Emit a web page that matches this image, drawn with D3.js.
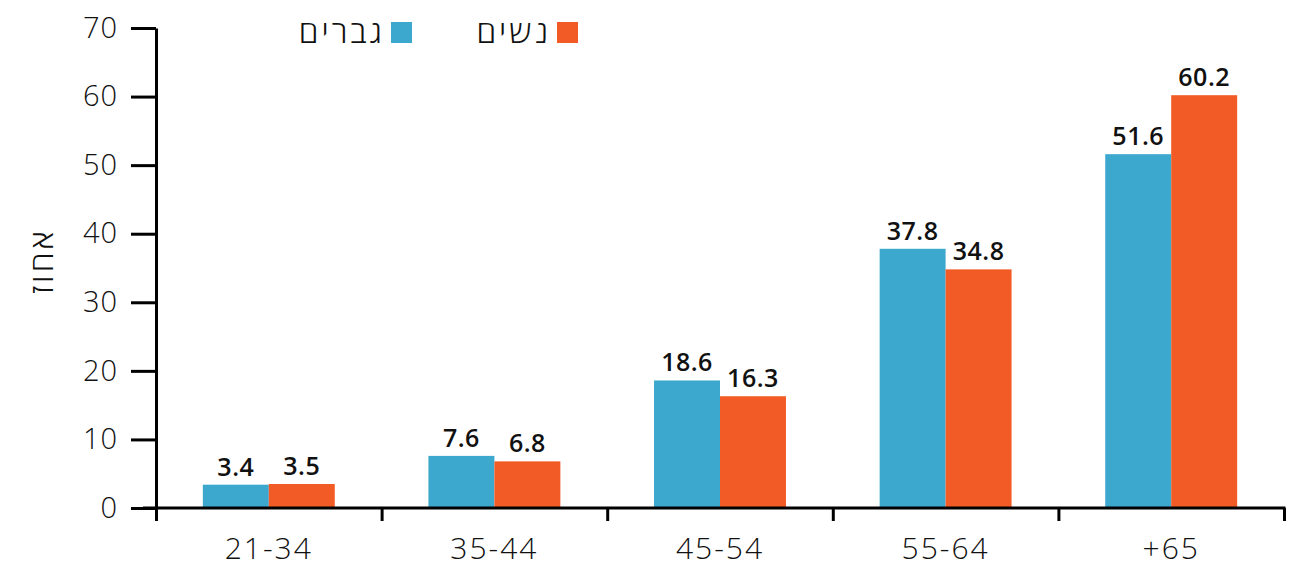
<!DOCTYPE html>
<html><head><meta charset="utf-8">
<script src="https://cdn.jsdelivr.net/npm/d3@7"></script>
<style>
body{margin:0;background:#fff;}
svg{display:block;}
text{font-family:"Open Sans","Liberation Sans",sans-serif;}
</style></head>
<body>
<svg id="chart" width="1292" height="579"></svg>
<script>
const categories = ["21-34","35-44","45-54","55-64","+65"];
const men = [3.4, 7.6, 18.6, 37.8, 51.6];
const women = [3.5, 6.8, 16.3, 34.8, 60.2];
const yTicks = [0,10,20,30,40,50,60,70];
const seriesNames = ["גברים","נשים"];
const colors = ["#3DA8CE","#F25B25"];
const yTitle = "אחוז";

(function(){
const svg = d3.select("#chart");
const mLeft = 156, mRight = 1284, mTop = 28, mBottom = 508;

const x = d3.scaleBand().domain(categories).range([mLeft,mRight]).padding(0);
const x1 = d3.scaleBand().domain([0,1]).range([0,x.bandwidth()]).paddingInner(0).paddingOuter(0.71);
const y = d3.scaleLinear().domain([0,70]).range([mBottom,mTop]);

const data = categories.map((c,i)=>({c, vals:[men[i],women[i]]}));
const g = svg.append("g");
data.forEach(d=>{
  d.vals.forEach((v,j)=>{
    g.append("rect")
      .attr("x", x(d.c)+x1(j))
      .attr("y", y(v))
      .attr("width", x1.bandwidth())
      .attr("height", y(0)-y(v))
      .attr("fill", colors[j]);
    g.append("text")
      .attr("x", x(d.c)+x1(j)+x1.bandwidth()/2)
      .attr("y", y(v)-9)
      .attr("text-anchor","middle")
      .attr("font-size",25)
      .attr("font-weight",600)
      .attr("letter-spacing",0.5)
      .attr("fill","#111")
      .text(v.toFixed(1));
  });
});

const yAxis = svg.append("g").attr("transform",`translate(${mLeft},0)`)
  .call(d3.axisLeft(y).tickValues(yTicks).tickSize(25).tickSizeOuter(0).tickPadding(13));
yAxis.select(".domain").attr("stroke","#000").attr("stroke-width",3);
yAxis.selectAll(".tick line").attr("stroke","#000").attr("stroke-width",3);
yAxis.selectAll(".tick text").attr("font-size",29).attr("font-weight",300).attr("fill","#111")
  .attr("letter-spacing",1)
  .style("font-family","'Open Sans',sans-serif");

const xb = d3.scalePoint().domain(d3.range(categories.length+1)).range([mLeft,mRight]);
const xAxisB = svg.append("g").attr("transform",`translate(0,${mBottom})`)
  .call(d3.axisBottom(xb).tickSize(13).tickSizeOuter(0).tickFormat(""));
xAxisB.select(".domain").remove();
xAxisB.selectAll(".tick line").attr("stroke","#000").attr("stroke-width",3);
svg.append("line").attr("x1",143).attr("x2",mRight+1.5).attr("y1",mBottom).attr("y2",mBottom)
  .attr("stroke","#000").attr("stroke-width",3);

const xAxis = svg.append("g").attr("transform",`translate(0,${mBottom})`)
  .call(d3.axisBottom(x).tickSize(0).tickPadding(30));
xAxis.select(".domain").remove();
xAxis.selectAll(".tick text").attr("font-size",30).attr("font-weight",300).attr("fill","#111")
  .attr("letter-spacing",2)
  .style("font-family","'Open Sans',sans-serif");

svg.append("text").attr("transform","translate(53,261) rotate(-90)")
  .attr("text-anchor","middle").attr("font-size",32).attr("font-weight",300).attr("fill","#111")
  .attr("letter-spacing",3)
  .text(yTitle);

const legendItems = [{name:seriesNames[0], c:colors[0], sx:391},{name:seriesNames[1], c:colors[1], sx:557}];
legendItems.forEach(l=>{
  svg.append("rect").attr("x",l.sx).attr("y",22).attr("width",21).attr("height",21).attr("fill",l.c);
  svg.append("text").attr("x",l.sx-6).attr("y",43).attr("text-anchor","end")
    .attr("font-size",32).attr("font-weight",300).attr("fill","#111")
    .attr("letter-spacing",3).text(l.name);
});
})();
</script>
</body></html>
